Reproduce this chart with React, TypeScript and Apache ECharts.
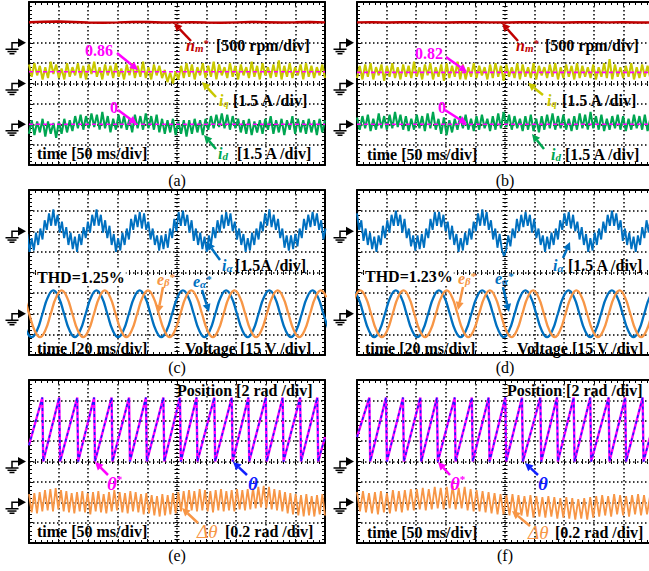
import React, { useEffect, useRef } from "react";
import * as echarts from "echarts";

const CW = 649, CH = 571;
const serif = "'Liberation Serif','DejaVu Serif','Times New Roman',serif";

// ---------- layout (pixels) ----------
const colLeft = [29, 357];
const rowTop = [2, 190, 380];
const rowHeight = [163, 165, 163];
const panelWidth = 296;
const captions = ["(a)", "(b)", "(c)", "(d)", "(e)", "(f)"];

// ---------- (a)/(b): speed and dq currents, 50 ms/div ----------
const totalMs = 500;
const msPerDivSlow = 50;
const rpmPerDiv = 500;
const ampPerDiv = 1.5;
const groundSpeed = 6, groundIq = 4, groundId = 2;
const speedA = [505, 515, 520, 510, 495, 490, 500, 512, 508, 498, 500, 505, 495, 490, 500, 510, 505, 498, 502, 508, 500];
const speedB = [500, 502, 499, 501, 503, 500, 498, 501, 502, 500, 499, 501, 503, 500, 499, 501, 502, 500, 501, 499, 500];
const iqA = [1.4,0.5,1.5,0.6,1.3,0.3,1.2,0.4,1.6,0.7,1.4,0.4,1.1,0.3,1.5,0.5,1.2,0.6,1.5,0.4,
1.3,0.3,1.4,0.7,1.6,0.5,1.2,0.3,1.4,0.6,1.3,0.4,1.5,0.5,1.1,0.3,1.4,0.6,1.5,0.4,
1.3,0.5,1.6,0.4,1.2,0.3,1.4,0.6,1.3,0.4,1.0,0.1,0.8,0.0,0.9,0.3,1.3,0.4,1.5,0.5,
1.4,0.3,1.2,0.6,1.5,0.4,1.3,0.5,1.6,0.3,1.4,0.6,1.2,0.4,1.5,0.5,1.3,0.3,1.4,0.6,
1.2,0.4,1.6,0.5,1.3,0.3,1.5,0.6,1.2,0.4,1.4,0.5,1.7,0.3,1.3,0.5,1.5,0.4,1.2,0.6,
1.4,0.3,1.5,0.5,1.3,0.4,1.2,0.6,1.4,0.4];
const iqB = [0.4,1.3,0.3,1.4,0.5,1.5,0.3,1.2,0.6,1.4,0.2,1.3,0.5,1.5,0.4,1.2,0.3,1.4,0.5,1.3,
0.4,1.6,0.5,1.2,0.3,1.4,0.6,1.5,0.3,1.2,0.5,1.4,0.2,1.5,0.4,1.3,0.5,1.6,0.3,1.4,
0.3,1.2,0.5,1.5,0.4,1.3,0.6,1.2,0.3,1.4,0.4,1.5,0.5,1.3,0.2,1.4,0.5,1.2,0.4,1.5,
0.3,1.4,0.5,1.2,0.4,1.5,0.3,1.3,0.6,1.2,0.4,1.4,0.5,1.5,0.3,1.2,0.4,1.4,0.5,1.3,
0.3,1.5,0.4,1.3,0.5,1.2,0.4,1.4,0.3,1.2,0.5,1.5,0.4,1.8,0.3,1.4,0.5,1.2,0.4,1.3,
0.5,1.5,0.3,1.2,0.4,1.4,0.5,1.3,0.4,1.3];
const idA = [-0.7,0.3,-0.8,0.2,-0.6,0.4,-0.9,0.2,-0.7,0.1,-1.0,0.2,-0.7,0.4,-0.6,0.3,-0.5,0.6,-0.3,0.7,
-0.4,0.6,-0.3,0.8,-0.2,0.7,-0.4,0.9,-0.3,0.6,-0.6,0.4,-0.4,0.7,-0.3,0.6,-0.4,0.4,-0.6,0.7,
-0.3,0.6,-0.4,0.8,-0.3,0.6,-0.4,0.7,-0.6,0.4,-0.7,0.3,-0.6,0.4,-0.8,0.2,-0.7,0.3,-0.9,0.3,
-0.7,0.4,-0.6,0.3,-0.8,0.4,-0.4,0.6,-0.3,0.7,-0.2,0.8,-0.3,0.7,-0.4,0.6,-0.3,0.4,-0.6,0.3,
-0.7,0.4,-0.8,0.2,-0.6,0.3,-0.7,0.4,-0.4,0.6,-0.7,0.3,-0.6,0.4,-0.8,0.3,-0.4,0.6,-0.7,0.4,
-0.6,0.3,-0.7,0.4,-0.6,0.3,-0.8,0.4,-0.6,0.3];
const idB = [0.5,-0.4,0.6,-0.3,0.7,-0.5,0.4,-0.4,0.8,-0.3,0.6,-0.4,0.7,-0.3,0.9,-0.2,0.7,-0.4,0.6,-0.5,
0.4,-0.4,0.7,-0.3,0.6,-0.5,0.8,-0.3,0.9,-0.4,0.4,-0.7,0.5,-0.8,0.3,-0.6,0.4,-0.4,0.6,-0.3,
0.7,-0.4,0.4,-0.5,0.6,-0.4,0.7,-0.3,0.4,-0.5,0.6,-0.4,0.8,-0.3,0.9,-0.2,0.7,-0.4,0.6,-0.3,
0.4,-0.5,0.6,-0.4,0.7,-0.5,0.4,-0.6,0.6,-0.4,0.7,-0.3,0.8,-0.4,0.6,-0.3,0.7,-0.4,0.4,-0.5,
0.6,-0.4,0.8,-0.3,0.7,-0.4,0.9,-0.3,0.6,-0.4,0.7,-0.5,0.4,-0.4,0.6,-0.3,0.7,-0.4,0.6,-0.5,
0.4,-0.4,0.7,-0.3,0.6,-0.4,0.7,-0.5,0.4,-0.4];
const iqRefA = 0.86, iqRefB = 0.82, idRef = 0;

// ---------- (c)/(d): phase current and back-EMF references, 20 ms/div ----------
const msPerDivFast = 20;
const voltPerDiv = 15;
const groundIa = 6, groundE = 2;
const iaStepMs = 1.46;
const iaStartC = -1.1, iaStartD = 0;
const iaC = [-0.2,-1.5,-0.5,-1.4,-0.1,-1.0,0.2,-0.6,0.8,0.1,1.3,0.4,1.6,0.4,1.2,-0.1,0.7,-0.5,0.3,-1.0,
-0.1,-1.3,-0.4,-1.5,-0.2,-1.0,0.3,-0.5,0.7,-0.1,1.2,0.4,1.6,0.4,1.2,-0.1,0.8,-0.5,0.4,-1.0,
-0.2,-1.5,-0.5,-1.4,-0.1,-1.0,0.2,-0.6,0.9,0.1,1.2,0.3,1.4,0.2,1.3,0.1,0.7,-0.6,0.2,-1.0,
-0.3,-1.4,-0.3,-1.3,-0.2,-1.2,0.2,-0.5,0.9,0.0,1.4,0.4,1.5,0.4,1.2,-0.1,0.8,-0.7,0.2,-1.0,
-0.1,-1.3,-0.4,-1.5,-0.3,-1.0,0.3,-0.5,0.8,-0.1,1.2,0.2,1.4,0.4,1.3,0.0,0.7,-0.6,0.2,-1.0,
-0.2,-1.5,-0.5,-1.4,-0.1,-1.0,0.2,-0.6,0.7,0.0,1.3,0.4,1.6,0.3,1.2,0.1,0.9,-0.5,0.2,-1.2,
-0.3,-1.4,-0.3,-1.3,-0.2,-1.1,0.2,-0.5,0.9,0.1,1.2,0.3,1.4,0.4,1.3,0.1,0.8,-0.6,0.2];
const iaD = [1.3,0.1,0.8,-0.7,0.2,-1.0,-0.1,-1.3,-0.4,-1.5,-0.3,-1.0,0.4,-0.5,0.8,-0.1,1.2,0.4,1.5,0.4,
1.2,-0.1,0.9,-0.5,0.2,-1.1,-0.3,-1.4,-0.3,-1.3,-0.2,-1.2,0.2,-0.5,0.9,0.1,1.4,0.4,1.4,0.3,
1.2,0.0,0.7,-0.6,0.4,-1.0,-0.2,-1.5,-0.5,-1.4,-0.1,-1.0,0.2,-0.6,0.7,0.0,1.3,0.4,1.6,0.4,
1.4,0.1,0.8,-0.6,0.2,-1.2,-0.2,-1.3,-1.8,-1.4,-0.3,-1.1,0.2,-0.5,0.9,0.0,1.2,0.3,1.4,0.4,
1.2,-0.1,0.9,-0.5,0.2,-1.0,-0.3,-1.5,-0.4,-1.3,-0.1,-1.0,0.2,-0.6,0.8,0.1,1.3,0.4,1.4,0.2,
1.2,0.0,0.7,-0.6,0.3,-1.0,-0.2,-1.5,-0.5,-1.4,-0.1,-1.0,0.2,-0.6,0.7,-0.1,1.2,0.4,1.5,0.4,
1.3,0.1,0.8,-0.7,0.2,-1.0,-0.1,-1.3,-0.4,-1.5,-0.3,-1.0,0.3,-0.5,0.8,-0.1,1.2,0.4,1.5];
const eStepMs = 3.65;
const eAlphaStartC = -12.8, eBetaStartC = -7.2, eAlphaStartD = -3.0, eBetaStartD = -5.1;
const eAlphaC = [17,12,0,-12,-17,-12,0,12, 17,12,0,-12,-17,-12,0,12, 17,12,0,-12,-17,-12,0,12, 17,12,0,-12,-17,-12,0,12,
17,12,0,-12,-17,-12,0,12, 17,12,0,-12,-17,-12,0,12, 17,12,0,-12,-17,-12,0,12, 17,12,0,-12];
const eBetaC = [17,12,0,-12,-17,-12,0,12, 17,12,0,-12,-17,-12,0,12, 17,12,0,-12,-17,-12,0,12, 17,12,0,-12,-17,-12,0,12,
17,12,0,-12,-17,-12,0,12, 17,12,0,-12,-17,-12,0,12, 17,12,0,-12,-17,-12,0,12, 17,12];
const eAlphaD = [17,12,0,-12,-17,-12,0,12, 17,12,0,-12,-17,-12,0,12, 17,12,0,-12,-17,-12,0,12, 17,12,0,-12,-17,-12,0,12,
17,12,0,-12,-17,-12,0,12, 17,12,0,-12,-17,-12,0,12, 17,12,0,-12,-17,-12,0,12, 17];
const eBetaD = [0,12,17,12,0,-12,-17,-12, 0,12,17,12,0,-12,-17,-12, 0,12,17,12,0,-12,-17,-12, 0,12,17,12,0,-12,-17,-12,
0,12,17,12,0,-12,-17,-12, 0,12,17,12,0,-12,-17,-12, 0,12,17,12,0,-12,-17,-12, 0,12];

// ---------- (e)/(f): rotor position and error, 50 ms/div ----------
const radPerDivTheta = 2, radPerDivErr = 0.2;
const groundTheta = 4, groundErr = 2;
const thetaTop = 6.28;
const thetaFallMs = 1.5;
const thetaPeaksE = [22.5, 51, 81.5, 110, 139.5, 169, 197.5, 227, 255, 283, 313, 342.5, 370.5, 400, 428.5, 458, 487];
const thetaStartE = 1.6, thetaEndE = 2.4;
const thetaPeaksF = [20.8, 49, 77.7, 107, 135, 165, 194, 222.4, 250.5, 278.7, 309.7, 337.8, 366, 394, 425, 453, 482.5];
const thetaStartF = 2.4, thetaEndF = 3.5;
const dThetaE = [0.08,-0.10,0.09,-0.11,0.10,-0.09,0.12,-0.08,0.13,-0.09,0.14,-0.07,0.12,-0.09,0.11,-0.10,0.09,-0.11,0.10,-0.09,
0.11,-0.10,0.09,-0.12,0.10,-0.09,0.11,-0.10,0.08,-0.11,0.10,-0.09,0.12,-0.08,0.10,-0.10,0.09,-0.11,0.11,-0.09,
0.10,-0.10,0.08,-0.12,0.09,-0.11,0.07,-0.13,0.06,-0.14,0.08,-0.13,0.07,-0.12,0.09,-0.11,0.10,-0.09,0.11,-0.10,
0.12,-0.08,0.11,-0.09,0.13,-0.08,0.12,-0.09,0.11,-0.10,0.12,-0.08,0.13,-0.09,0.11,-0.08,0.12,-0.09,0.13,-0.07,
0.12,-0.08,0.13,-0.07,0.14,-0.06,0.15,-0.05,0.16,-0.06,0.15,-0.07,0.13,-0.08,0.12,-0.09,0.10,-0.11,0.09,-0.12,
0.08,-0.13,0.07,-0.14,0.08,-0.13,0.06,-0.14,0.07,-0.12,0.08,-0.13];
const dThetaF = [0.10,-0.09,0.11,-0.10,0.09,-0.11,0.10,-0.12,0.11,-0.10,0.09,-0.11,0.12,-0.09,0.11,-0.10,0.12,-0.08,0.13,-0.08,
0.13,-0.07,0.14,-0.08,0.13,-0.07,0.15,-0.06,0.14,-0.07,0.15,-0.06,0.16,-0.07,0.14,-0.06,0.15,-0.08,0.13,-0.09,
0.12,-0.09,0.11,-0.10,0.10,-0.11,0.09,-0.12,0.08,-0.12,0.07,-0.13,0.08,-0.14,0.07,-0.13,0.06,-0.14,0.07,-0.15,
0.06,-0.14,0.05,-0.15,0.06,-0.14,0.05,-0.16,0.04,-0.15,0.05,-0.16,0.04,-0.17,0.03,-0.16,0.04,-0.17,0.05,-0.15,
0.06,-0.14,0.07,-0.13,0.06,-0.14,0.08,-0.12,0.07,-0.13,0.06,-0.14,0.07,-0.12,0.08,-0.13,0.07,-0.12,0.06,-0.13];

// ---------- colours ----------
const cRed = "#c00000", cYellow = "#c8c800", cMag = "#ff00ff", cGreen = "#00a651";
const cBlue = "#0070c0", cOrange = "#f79646", cTheta = "#1020ff";

// ---------- builders ----------
const spread = (vals: number[], msPerDiv: number, ground: number, perDiv: number) =>
  vals.map((v, i) => [(i * totalMs / (vals.length - 1)) / msPerDiv, ground + v / perDiv]);
const stepped = (vals: number[], startMs: number, stepMs: number, msPerDiv: number, ground: number, perDiv: number) =>
  vals.map((v, i) => [(startMs + i * stepMs) / msPerDiv, ground + v / perDiv]);
const level = (v: number, ground: number, perDiv: number) => [[0, ground + v / perDiv], [10, ground + v / perDiv]];
const sawtooth = (peaks: number[], start: number, end: number) => {
  const pts: number[][] = [[0, start]];
  peaks.forEach((tp) => { pts.push([tp, thetaTop]); pts.push([tp + thetaFallMs, 0]); });
  pts.push([totalMs, end]);
  return pts.map(([t, v]) => [t / msPerDivSlow, groundTheta + v / radPerDivTheta]);
};

function panelRect(p: number) {
  return { left: colLeft[p % 2], top: rowTop[Math.floor(p / 2)], width: panelWidth, height: rowHeight[Math.floor(p / 2)] };
}

function axesFor(p: number) {
  const r = panelRect(p);
  const black = { color: "#000" };
  const common = (max: number) => ({
    type: "value", gridIndex: p, min: 0, max, interval: 1,
    axisLabel: { show: false },
    axisLine: { show: true, onZero: false, lineStyle: { ...black, width: 2 } },
    axisTick: { show: true, inside: true, length: 4, lineStyle: { ...black, width: 1 } },
    minorTick: { show: true, splitNumber: 5, length: 3, lineStyle: { ...black, width: 1 } },
    splitLine: { show: false },
  });
  const center = (max: number, inside: boolean) => ({
    ...common(max),
    axisLine: { show: false, onZero: false },
    axisTick: { show: true, inside, length: 2.5, lineStyle: { ...black, width: 1 } },
    minorTick: { show: true, splitNumber: 5, length: 2.5, lineStyle: { ...black, width: 1 } },
  });
  const dotted = { show: true, lineStyle: { color: "#000", width: 1.5, type: [1.5, 2.5] } };
  const x = [
    { ...common(10), position: "bottom", splitLine: dotted },
    { ...common(10), position: "top" },
    { ...center(10, true), position: "bottom", offset: -r.height / 2 },
    { ...center(10, false), position: "bottom", offset: -r.height / 2 },
  ];
  const y = [
    { ...common(8), position: "left", splitLine: dotted },
    { ...common(8), position: "right" },
    { ...center(8, true), position: "left", offset: -r.width / 2 },
    { ...center(8, false), position: "left", offset: -r.width / 2 },
  ];
  return { x, y };
}

function line(p: number, data: number[][], color: string, width: number, extra: any = {}) {
  return {
    type: "line", xAxisIndex: 4 * p, yAxisIndex: 4 * p, data, symbol: "none", showSymbol: false,
    lineStyle: { color, width }, silent: true, animation: false, clip: true, ...extra,
  };
}

// ---------- annotation helpers ----------
const rich = (color: string, big = 16) => ({
  m: { fontFamily: serif, fontSize: big, fontStyle: "italic", fontWeight: "bold", fill: color, lineHeight: big, verticalAlign: "top" },
  s: { fontFamily: serif, fontSize: 11, fontStyle: "italic", fontWeight: "bold", fill: color, lineHeight: 11, verticalAlign: "bottom", padding: [big - 8, 0, 0, 0] },
  p: { fontFamily: serif, fontSize: 11, fontWeight: "bold", fill: color, lineHeight: 11, verticalAlign: "top" },
});
const txt = (x: number, y: number, text: string, color = "#000", opts: any = {}) => ({
  type: "text", x, y, z: 100, silent: true,
  style: {
    text, fill: color, align: opts.align || "left", verticalAlign: "middle",
    font: opts.font || `bold 16px ${serif}`, rich: opts.rich,
    backgroundColor: opts.bg, padding: opts.bg ? [0, 1, 0, 1] : undefined,
  },
});
const sym = (x: number, y: number, text: string, color: string, big = 16) =>
  txt(x, y, text, color, { rich: rich(color, big), font: `italic bold ${big}px ${serif}` });

function arrow(x1: number, y1: number, x2: number, y2: number, color: string) {
  const dx = x2 - x1, dy = y2 - y1, L = Math.hypot(dx, dy), ux = dx / L, uy = dy / L;
  const hl = 8, hw = 4;
  const bx = x2 - ux * hl, by = y2 - uy * hl;
  return [
    { type: "line", z: 100, silent: true, shape: { x1, y1, x2: bx, y2: by }, style: { stroke: color, lineWidth: 2.5 } },
    { type: "polygon", z: 100, silent: true, shape: { points: [[x2, y2], [bx - uy * hw, by + ux * hw], [bx + uy * hw, by - ux * hw]] }, style: { fill: color } },
  ];
}

function groundMark(p: number, groundDiv: number) {
  const r = panelRect(p);
  const tip = r.left - 3;
  const y = r.top + (8 - groundDiv) * r.height / 8;
  const st = { stroke: "#000", lineWidth: 1.5 };
  return [
    { type: "polygon", z: 100, silent: true, shape: { points: [[tip - 8, y - 4.5], [tip, y], [tip - 8, y + 4.5]] }, style: { fill: "#000" } },
    { type: "polyline", z: 100, silent: true, shape: { points: [[tip - 8, y], [tip - 14, y], [tip - 14, y + 6.5]] }, style: { ...st, fill: null } },
    { type: "line", z: 100, silent: true, shape: { x1: tip - 20.5, y1: y + 6.5, x2: tip - 7.5, y2: y + 6.5 }, style: st },
    { type: "line", z: 100, silent: true, shape: { x1: tip - 18.5, y1: y + 8.8, x2: tip - 9.5, y2: y + 8.8 }, style: st },
    { type: "line", z: 100, silent: true, shape: { x1: tip - 16.5, y1: y + 11, x2: tip - 11.5, y2: y + 11 }, style: st },
  ];
}

function buildOption() {
  const grids: any[] = [], xAxes: any[] = [], yAxes: any[] = [];
  for (let p = 0; p < 6; p++) {
    const r = panelRect(p);
    grids.push({ left: r.left, top: r.top, width: r.width, height: r.height, outerBoundsMode: "none", containLabel: false });
    const a = axesFor(p);
    xAxes.push(...a.x);
    yAxes.push(...a.y);
  }

  const dashRef = { lineStyle: { color: cMag, width: 1.6, type: [4, 3] }, z: 5 };
  const series: any[] = [
    // (a)
    line(0, spread(speedA, msPerDivSlow, groundSpeed, rpmPerDiv), cRed, 2.5),
    line(0, spread(iqA, msPerDivSlow, groundIq, ampPerDiv), cYellow, 2.1),
    line(0, spread(idA, msPerDivSlow, groundId, ampPerDiv), cGreen, 2.1),
    line(0, level(iqRefA, groundIq, ampPerDiv), cMag, 1.6, dashRef),
    line(0, level(idRef, groundId, ampPerDiv), cMag, 1.6, dashRef),
    // (b)
    line(1, spread(speedB, msPerDivSlow, groundSpeed, rpmPerDiv), cRed, 2.5),
    line(1, spread(iqB, msPerDivSlow, groundIq, ampPerDiv), cYellow, 2.1),
    line(1, spread(idB, msPerDivSlow, groundId, ampPerDiv), cGreen, 2.1),
    line(1, level(iqRefB, groundIq, ampPerDiv), cMag, 1.6, dashRef),
    line(1, level(idRef, groundId, ampPerDiv), cMag, 1.6, dashRef),
    // (c)
    line(2, stepped(iaC, iaStartC, iaStepMs, msPerDivFast, groundIa, ampPerDiv), cBlue, 1.9),
    line(2, stepped(eAlphaC, eAlphaStartC, eStepMs, msPerDivFast, groundE, voltPerDiv), cBlue, 2.3, { smooth: true }),
    line(2, stepped(eBetaC, eBetaStartC, eStepMs, msPerDivFast, groundE, voltPerDiv), cOrange, 2.3, { smooth: true }),
    // (d)
    line(3, stepped(iaD, iaStartD, iaStepMs, msPerDivFast, groundIa, ampPerDiv), cBlue, 1.9),
    line(3, stepped(eAlphaD, eAlphaStartD, eStepMs, msPerDivFast, groundE, voltPerDiv), cBlue, 2.3, { smooth: true }),
    line(3, stepped(eBetaD, eBetaStartD, eStepMs, msPerDivFast, groundE, voltPerDiv), cOrange, 2.3, { smooth: true }),
    // (e)
    line(4, sawtooth(thetaPeaksE, thetaStartE, thetaEndE), cMag, 2.4),
    line(4, sawtooth(thetaPeaksE, thetaStartE, thetaEndE), cTheta, 1.5, { lineStyle: { color: cTheta, width: 1.5, type: [3, 3] }, z: 4 }),
    line(4, spread(dThetaE, msPerDivSlow, groundErr, radPerDivErr), cOrange, 1.8),
    // (f)
    line(5, sawtooth(thetaPeaksF, thetaStartF, thetaEndF), cMag, 2.4),
    line(5, sawtooth(thetaPeaksF, thetaStartF, thetaEndF), cTheta, 1.5, { lineStyle: { color: cTheta, width: 1.5, type: [3, 3] }, z: 4 }),
    line(5, spread(dThetaF, msPerDivSlow, groundErr, radPerDivErr), cOrange, 1.8),
  ];

  const g: any[] = [];
  [groundSpeed, groundIq, groundId].forEach((d) => { g.push(...groundMark(0, d), ...groundMark(1, d)); });
  [groundIa, groundE].forEach((d) => { g.push(...groundMark(2, d), ...groundMark(3, d)); });
  [groundTheta, groundErr].forEach((d) => { g.push(...groundMark(4, d), ...groundMark(5, d)); });

  const capY = [180, 367, 555];
  for (let p = 0; p < 6; p++) {
    const r = panelRect(p);
    g.push(txt(r.left + r.width / 2, capY[Math.floor(p / 2)], captions[p], "#000", { align: "center", font: `16px ${serif}` }));
  }

  // (a)
  g.push(sym(186, 45, "{m|n}{s|m}{p|*}", cRed), txt(216, 45, "[500 rpm/div]"));
  g.push(txt(85, 50, "0.86", cMag), txt(110, 107, "0", cMag));
  g.push(sym(219, 100, "{m|i}{s|q}", cYellow), txt(233, 100, "[1.5 A /div]"));
  g.push(sym(218, 153, "{m|i}{s|d}", cGreen), txt(237, 153, "[1.5 A /div]"));
  g.push(txt(37, 153, "time [50 ms/div]"));
  g.push(...arrow(191, 41, 174, 23, cRed), ...arrow(117, 53, 138, 70, cMag), ...arrow(216, 97, 202, 82, cYellow),
    ...arrow(118, 110, 137, 124, cMag), ...arrow(216, 149, 204, 135, cGreen));
  // (b)
  g.push(sym(516, 45, "{m|n}{s|m}{p|*}", cRed), txt(545, 45, "[500 rpm/div]"));
  g.push(txt(415, 53, "0.82", cMag), txt(438, 107, "0", cMag));
  g.push(sym(547, 100, "{m|i}{s|q}", cYellow), txt(562, 100, "[1.5 A /div]"));
  g.push(sym(551, 154, "{m|i}{s|d}", cGreen), txt(565, 154, "[1.5 A /div]"));
  g.push(txt(367, 154, "time [50 ms/div]"));
  g.push(...arrow(518, 41, 502, 23, cRed), ...arrow(446, 57, 467, 72, cMag), ...arrow(543, 95, 528, 83, cYellow),
    ...arrow(445, 110, 467, 124, cMag), ...arrow(544, 149, 532, 134, cGreen));
  // (c)
  g.push(sym(222, 265, "{m|i}{s|α}", cBlue), txt(235, 265, "[1.5A /div]"));
  g.push(txt(36, 277, "THD=1.25%", "#000", { bg: "#fff" }));
  g.push(sym(157, 279, "{m|e}{s|β}{p|*}", cOrange), sym(193, 281, "{m|e}{s|α}{p|*}", cBlue));
  g.push(txt(37, 348, "time [20 ms/div]"), txt(185, 348, "Voltage [15 V /div]"));
  g.push(...arrow(220, 260, 207, 242, cBlue), ...arrow(163, 287, 158, 313, cOrange), ...arrow(202, 290, 209, 312, cBlue));
  // (d)
  g.push(sym(553, 265, "{m|i}{s|α}", cBlue), txt(568, 265, "[1.5 A /div]"));
  g.push(txt(364, 276, "THD=1.23%", "#000", { bg: "#fff" }));
  g.push(sym(458, 278, "{m|e}{s|β}{p|*}", cOrange), sym(495, 278, "{m|e}{s|α}{p|*}", cBlue));
  g.push(txt(365, 348, "time [20 ms/div]"), txt(517, 348, "Voltage [15 V /div]"));
  g.push(...arrow(563, 258, 570, 242, cBlue), ...arrow(463, 287, 458, 310, cOrange), ...arrow(503, 287, 509, 312, cBlue));
  // (e)
  g.push(txt(177, 390, "Position [2 rad /div]"));
  g.push(sym(107, 483, "{m|θ}{p|*}", cMag, 19), sym(248, 483, "{m|θ}", cTheta, 19));
  g.push(txt(197, 531, "Δθ", cOrange, { font: `italic 19px ${serif}` }), txt(225, 531, "[0.2 rad /div]"));
  g.push(txt(37, 531, "time [50 ms/div]"));
  g.push(...arrow(108, 475, 95, 462, cMag), ...arrow(247, 475, 233, 462, cTheta), ...arrow(198, 523, 182, 508, cOrange));
  // (f)
  g.push(txt(507, 390, "Position [2 rad /div]"));
  g.push(sym(450, 483, "{m|θ}{p|*}", cMag, 19), sym(538, 483, "{m|θ}", cTheta, 19));
  g.push(txt(528, 532, "Δθ", cOrange, { font: `italic 19px ${serif}` }), txt(555, 532, "[0.2 rad /div]"));
  g.push(txt(367, 532, "time [50 ms/div]"));
  g.push(...arrow(450, 475, 438, 462, cMag), ...arrow(538, 475, 525, 463, cTheta), ...arrow(530, 526, 512, 511, cOrange));

  return {
    animation: false,
    backgroundColor: "#fff",
    grid: grids,
    xAxis: xAxes,
    yAxis: yAxes,
    series,
    graphic: { elements: g },
  };
}

export default function App() {
  const ref = useRef<HTMLDivElement>(null);
  useEffect(() => {
    if (!ref.current) return;
    const chart = echarts.init(ref.current, undefined, { renderer: "svg", width: CW, height: CH });
    chart.setOption(buildOption() as any);
    return () => chart.dispose();
  }, []);
  return <div ref={ref} style={{ position: "absolute", left: 0, top: 0, width: CW, height: CH, background: "#fff" }} />;
}
